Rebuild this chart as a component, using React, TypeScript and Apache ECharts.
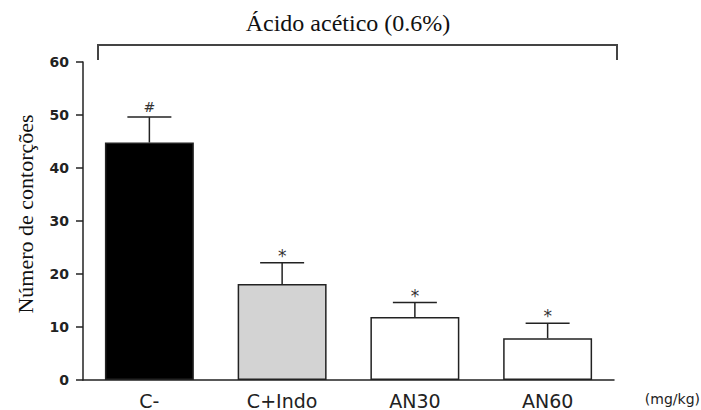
import React, { useEffect, useRef } from "react";
import * as echarts from "echarts";

const categories = ["C-", "C+Indo", "AN30", "AN60"];
const means = [44.8, 18.1, 11.9, 7.9];
const sems = [4.8, 4.0, 2.7, 2.8];
const marks = ["#", "*", "*", "*"];
const yTicks = { min: 0, max: 60, interval: 10 };
const titleText = "Ácido acético (0.6%)";
const yTitle = "Número de contorções";
const unitText = "(mg/kg)";

const barColors = ["#000000", "#d3d3d3", "#ffffff", "#ffffff"];

export default function App() {
  const ref = useRef<HTMLDivElement>(null);
  useEffect(() => {
    if (!ref.current) return;
    const chart = echarts.init(ref.current, null, { renderer: "svg" });
    const ink = "#222";
    chart.setOption({
      animation: false,
      backgroundColor: "#ffffff",
      grid: { left: 83, right: 87, top: 62, bottom: 30 },
      xAxis: {
        type: "category",
        data: categories,
        axisLine: { lineStyle: { color: ink, width: 1.5 } },
        axisTick: { alignWithLabel: true, length: 7, lineStyle: { color: ink, width: 1.5 } },
        axisLabel: {
          margin: 11,
          fontFamily: "DejaVu Sans",
          fontSize: 19,
          color: ink,
        },
      },
      yAxis: {
        type: "value",
        min: yTicks.min,
        max: yTicks.max,
        interval: yTicks.interval,
        splitLine: { show: false },
        axisLine: { show: true, lineStyle: { color: ink, width: 1.5 } },
        axisTick: { show: true, length: 7, lineStyle: { color: ink, width: 1.5 } },
        axisLabel: {
          margin: 14,
          fontFamily: "DejaVu Sans",
          fontWeight: "bold",
          fontSize: 14,
          color: ink,
        },
      },
      series: [
        {
          type: "bar",
          barWidth: "67%",
          data: means.map((v, i) => ({
            value: v,
            itemStyle: { color: barColors[i], borderColor: ink, borderWidth: 1.5 },
          })),
        },
        {
          type: "custom",
          z: 5,
          encode: { x: 0, y: [1, 2] },
          data: categories.map((_, i) => [i, means[i], means[i] + sems[i]]),
          renderItem: (params: any, api: any) => {
            const i = api.value(0);
            const base = api.coord([i, api.value(1)]);
            const top = api.coord([i, api.value(2)]);
            const half = 22;
            const mark = marks[i];
            const dy = mark === "#" ? 10 : 7;
            return {
              type: "group",
              children: [
                {
                  type: "line",
                  shape: { x1: base[0], y1: base[1], x2: top[0], y2: top[1] },
                  style: { stroke: ink, lineWidth: 1.5 },
                },
                {
                  type: "line",
                  shape: { x1: top[0] - half, y1: top[1], x2: top[0] + half, y2: top[1] },
                  style: { stroke: ink, lineWidth: 1.5 },
                },
                {
                  type: "text",
                  style: {
                    text: mark,
                    x: top[0],
                    y: top[1] - dy,
                    align: "center",
                    verticalAlign: "middle",
                    fontFamily: "DejaVu Sans",
                    fontSize: mark === "#" ? 14 : 17,
                    fill: "#333",
                  },
                },
              ],
            };
          },
        },
      ],
      graphic: [
        {
          type: "polyline",
          shape: { points: [[98, 60], [98, 45], [617, 45], [617, 60]] },
          style: { stroke: "#444", lineWidth: 2, fill: "none" },
        },
        {
          type: "text",
          x: 348,
          y: 23,
          style: {
            text: titleText,
            align: "center",
            verticalAlign: "middle",
            fontFamily: "Liberation Serif",
            fontSize: 24,
            fill: "#111",
          },
        },
        {
          type: "text",
          x: 25,
          y: 214,
          rotation: Math.PI / 2,
          style: {
            text: yTitle,
            align: "center",
            verticalAlign: "middle",
            fontFamily: "Liberation Serif",
            fontSize: 22,
            fill: "#111",
          },
        },
        {
          type: "text",
          x: 700,
          y: 399,
          style: {
            text: unitText,
            align: "right",
            verticalAlign: "middle",
            fontFamily: "DejaVu Sans",
            fontSize: 14,
            fill: ink,
          },
        },
      ],
    });
    return () => chart.dispose();
  }, []);
  return <div ref={ref} style={{ width: 701, height: 410, position: "absolute", left: 0, top: 0 }} />;
}
